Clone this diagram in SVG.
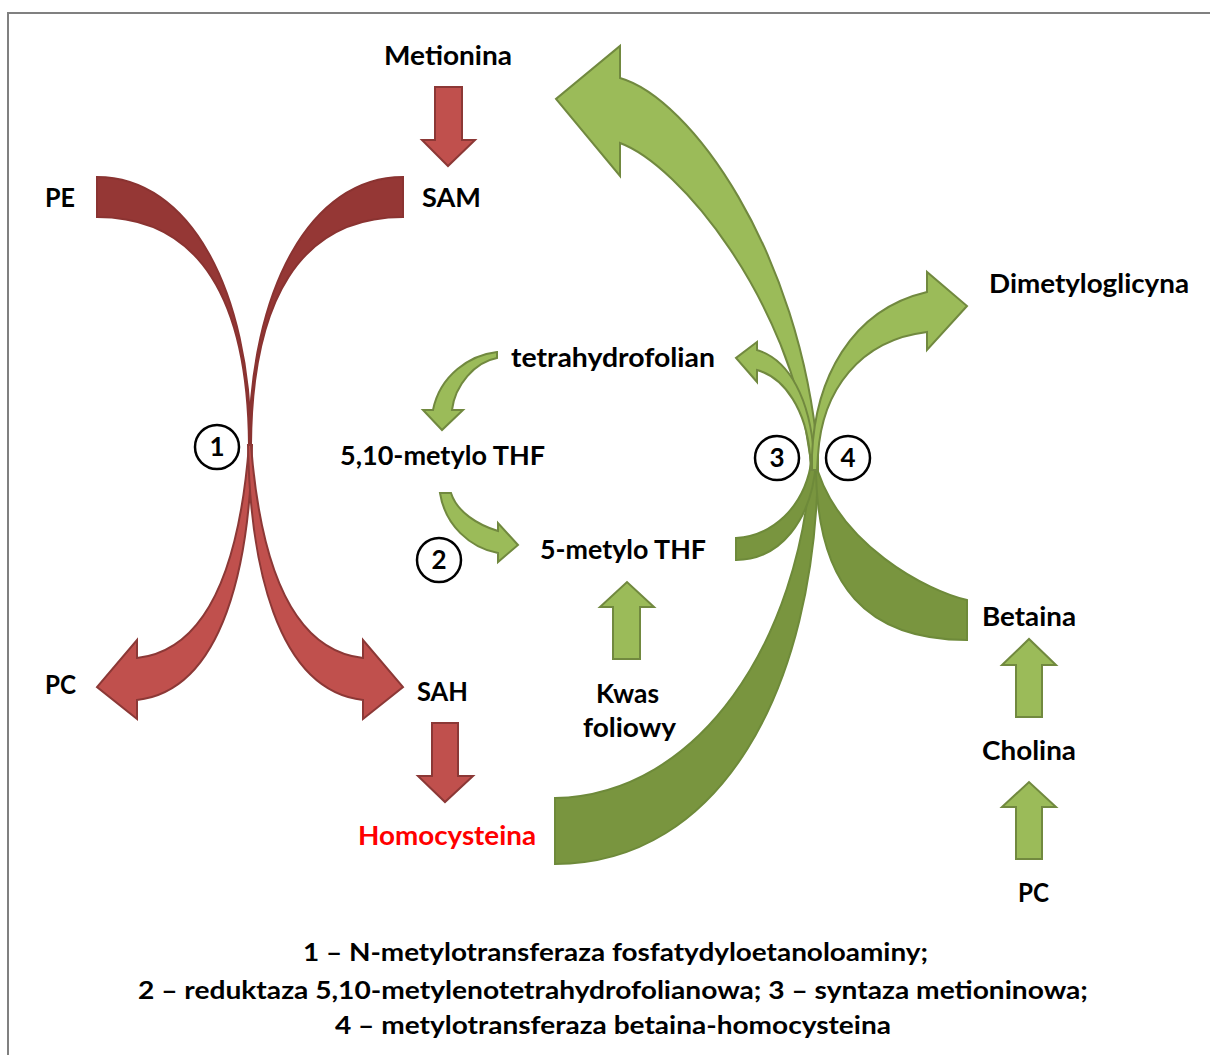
<svg xmlns="http://www.w3.org/2000/svg" width="1210" height="1055" viewBox="0 0 1210 1055">
<style>
.t{font-family:Lato,"Open Sans","Liberation Sans",sans-serif;font-weight:bold;font-size:27px;fill:#000}
.cap{font-family:Lato,"Open Sans","Liberation Sans",sans-serif;font-weight:bold;font-size:24px;fill:#000}
.rd{fill:#953735;stroke:#8A3331;stroke-width:2;stroke-linejoin:miter}
.rl{fill:#C0504D;stroke:#8C3836;stroke-width:2;stroke-linejoin:miter}
.gl{fill:#9BBB59;stroke:#71893F;stroke-width:2;stroke-linejoin:miter}
.gd{fill:#79953F;stroke:#6E8A3A;stroke-width:2;stroke-linejoin:miter}
.num{fill:none;stroke:#000;stroke-width:2.5}
.nt{font-family:Lato,"Open Sans","Liberation Sans",sans-serif;font-weight:bold;font-size:26px;fill:#000;text-anchor:middle}
</style>
<rect width="1210" height="1055" fill="#fff"/>
<path d="M8,1055 V13 H1210" fill="none" stroke="#808080" stroke-width="2"/>

<g id="connectors">
  <!-- red crossing arrows -->
  <path class="rd" d="M97,177 C190,177 250,290 251,445 L249,445 C248,300 200,217 97,217 Z"/>
  <path class="rd" d="M403,177 C310,177 250,290 249,445 L251,445 C252,300 300,217 403,217 Z"/>
  <path class="rl" d="M249,445 C240,560 210,650 137,658 L137,640 L97,687 L137,719 L137,700 C225,690 250,560 252,445 Z"/>
  <path class="rl" d="M251,445 C260,560 290,650 363,658 L363,640 L403,687 L363,719 L363,700 C275,690 250,560 248,445 Z"/>
  <!-- red straight arrows -->
  <polygon class="rl" points="435,87 462,87 462,140 475,140 448,166 422,140 435,140"/>
  <polygon class="rl" points="432,723 458,723 458,776 473,776 445,802 418,776 432,776"/>
  <!-- green dark bands -->
  <path class="gd" d="M555,798 C700,795 800,640 811,462 L812,446 L817,446 L818,462 C816,690 720,864 555,864 Z"/>
  <path class="gd" d="M736,538 C770,536 805,510 812,458 L813,446 L816,446 L816,462 C812,520 780,560 736,560 Z"/>
  <path class="gd" d="M967,600 C930,592 835,545 814,458 L813,446 L816,446 L816,462 C815,590 870,640 967,640 Z"/>
  <!-- green light curved arrows -->
  <path class="gl" d="M620,78 C690,98 800,250 818,455 L818,470 L811,470 L810,455 C790,300 680,165 620,143 L620,176 L556,99 L620,46 Z"/>
  <path class="gl" d="M757,350 C790,360 810,400 814,455 L815,470 L812,470 L810,455 C806,410 785,378 757,370 L757,382 L736,358 L757,342 Z"/>
  <path class="gl" d="M812,455 L812,470 L817,470 L818,455 C822,390 860,340 927,332 L927,350 L967,306 L927,272 L927,292 C850,310 815,380 812,455 Z"/>
  <path class="gl" d="M497,352 C470,355 440,375 433,410 L423,410 L442,430 L463,410 L452,410 C455,385 475,362 497,358 Z"/>
  <path class="gl" d="M440,493 C445,525 470,548 498,553 L498,562 L518,545 L498,523 L498,531 C478,525 457,512 451,493 Z"/>
  <!-- green straight arrows -->
  <polygon class="gl" points="613,659 640,659 640,607 654,607 627,582 600,607 613,607"/>
  <polygon class="gl" points="1016,717 1042,717 1042,665 1056,665 1029,639 1002,665 1016,665"/>
  <polygon class="gl" points="1016,859 1042,859 1042,807 1056,807 1029,782 1002,807 1016,807"/>
</g>

<g id="n-metionina"><text class="t" x="384" y="65" textLength="128" lengthAdjust="spacingAndGlyphs">Metionina</text></g>
<g id="n-pe"><text class="t" x="45" y="207" textLength="30" lengthAdjust="spacingAndGlyphs">PE</text></g>
<g id="n-sam"><text class="t" x="422" y="207" textLength="59" lengthAdjust="spacingAndGlyphs">SAM</text></g>
<g id="n-pc-left"><text class="t" x="45" y="694" textLength="31" lengthAdjust="spacingAndGlyphs">PC</text></g>
<g id="n-sah"><text class="t" x="417" y="701" textLength="51" lengthAdjust="spacingAndGlyphs">SAH</text></g>
<g id="n-homocysteina"><text class="t" x="358" y="845" textLength="178" lengthAdjust="spacingAndGlyphs" style="fill:#FF0000">Homocysteina</text></g>
<g id="n-thf"><text class="t" x="511" y="367" textLength="204" lengthAdjust="spacingAndGlyphs">tetrahydrofolian</text></g>
<g id="n-510thf"><text class="t" x="340" y="465" textLength="205" lengthAdjust="spacingAndGlyphs">5,10-metylo THF</text></g>
<g id="n-5thf"><text class="t" x="540" y="559" textLength="166" lengthAdjust="spacingAndGlyphs">5-metylo THF</text></g>
<g id="n-kwas"><text class="t" x="596" y="703" textLength="63" lengthAdjust="spacingAndGlyphs">Kwas</text><text class="t" x="583" y="737" textLength="93" lengthAdjust="spacingAndGlyphs">foliowy</text></g>
<g id="n-dmg"><text class="t" x="989" y="293" textLength="200" lengthAdjust="spacingAndGlyphs">Dimetyloglicyna</text></g>
<g id="n-betaina"><text class="t" x="982" y="626" textLength="94" lengthAdjust="spacingAndGlyphs">Betaina</text></g>
<g id="n-cholina"><text class="t" x="982" y="760" textLength="94" lengthAdjust="spacingAndGlyphs">Cholina</text></g>
<g id="n-pc-right"><text class="t" x="1018" y="902" textLength="31" lengthAdjust="spacingAndGlyphs">PC</text></g>

<g id="c1"><circle class="num" cx="217" cy="447" r="22"/><text class="nt" x="217" y="456">1</text></g>
<g id="c2"><circle class="num" cx="439" cy="560" r="22"/><text class="nt" x="439" y="569">2</text></g>
<g id="c3"><circle class="num" cx="777" cy="458" r="22"/><text class="nt" x="777" y="467">3</text></g>
<g id="c4"><circle class="num" cx="848" cy="458" r="22"/><text class="nt" x="848" y="467">4</text></g>

<g id="caption">
  <text class="cap" x="303" y="961" textLength="625" lengthAdjust="spacingAndGlyphs">1 – N-metylotransferaza fosfatydyloetanoloaminy;</text>
  <text class="cap" x="138" y="999" textLength="950" lengthAdjust="spacingAndGlyphs">2 – reduktaza 5,10-metylenotetrahydrofolianowa; 3 – syntaza metioninowa;</text>
  <text class="cap" x="335" y="1034" textLength="556" lengthAdjust="spacingAndGlyphs">4 – metylotransferaza betaina-homocysteina</text>
</g>
</svg>
